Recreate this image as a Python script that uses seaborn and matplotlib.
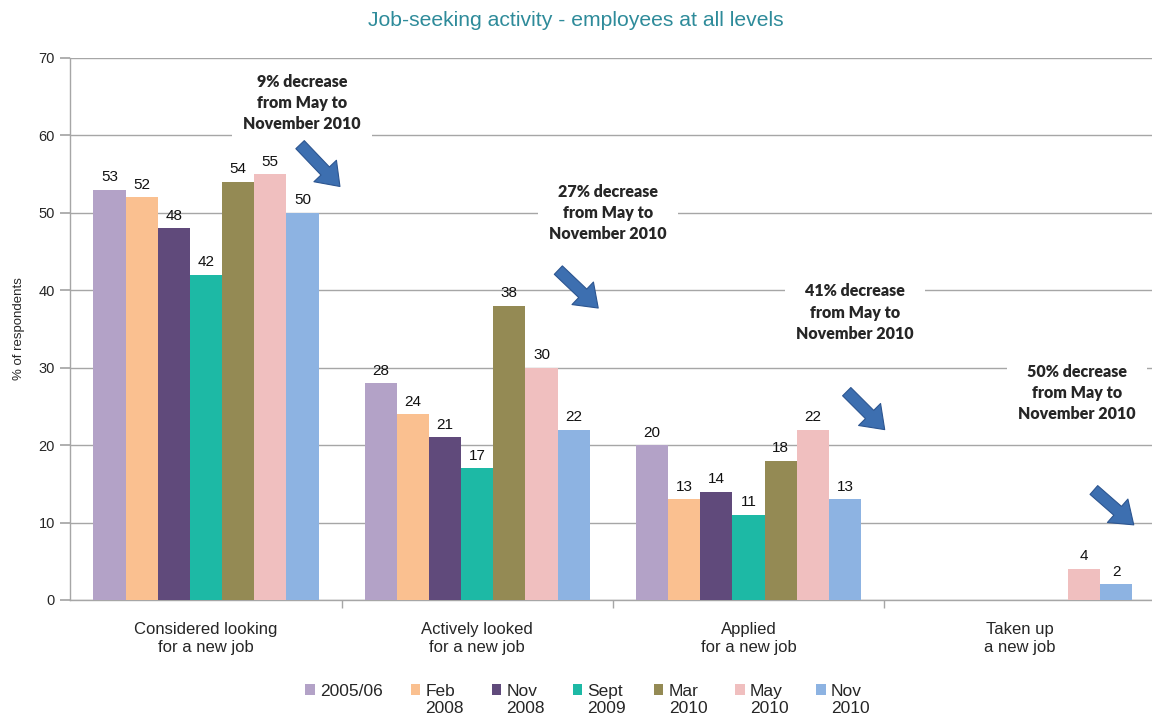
import numpy as np
import pandas as pd
import matplotlib
matplotlib.use("Agg")
import matplotlib.pyplot as plt
from matplotlib.patches import Rectangle
from matplotlib.legend_handler import HandlerPatch
import seaborn as sns

categories = ["Considered looking\nfor a new job", "Actively looked\nfor a new job",
              "Applied\nfor a new job", "Taken up\na new job"]
series = ["2005/06", "Feb\n2008", "Nov\n2008", "Sept\n2009", "Mar\n2010", "May\n2010", "Nov\n2010"]
v_2005 = [53, 28, 20, np.nan]
v_feb08 = [52, 24, 13, np.nan]
v_nov08 = [48, 21, 14, np.nan]
v_sep09 = [42, 17, 11, np.nan]
v_mar10 = [54, 38, 18, np.nan]
v_may10 = [55, 30, 22, 4]
v_nov10 = [50, 22, 13, 2]
colors = ["#B3A2C7", "#FAC090", "#604A7B", "#1DB9A5", "#948A54", "#F0BFBF", "#8DB3E2"]
notes = ["9% decrease\nfrom May to\nNovember 2010", "27% decrease\nfrom May to\nNovember 2010",
         "41% decrease\nfrom May to\nNovember 2010", "50% decrease\nfrom May to\nNovember 2010"]

vals = [v_2005, v_feb08, v_nov08, v_sep09, v_mar10, v_may10, v_nov10]
rows = []
for s, v in zip(series, vals):
    for c, x in zip(categories, v):
        rows.append({"cat": c, "series": s, "val": x})
df = pd.DataFrame(rows).dropna()

sns.set_theme(style="white")
plt.rcParams["font.family"] = ["Liberation Sans", "DejaVu Sans"]

fig = plt.figure(figsize=(11.52, 7.26), dpi=100)
ax = fig.add_axes([0.061, 0.1736, 0.942, 0.7466])

sns.barplot(data=df, x="cat", y="val", hue="series", order=categories, hue_order=series,
            palette=colors, width=0.83, errorbar=None, ax=ax, legend=True,
            edgecolor="none", saturation=1, zorder=3)

for cont in ax.containers:
    ax.bar_label(cont, fmt="%g", padding=4, fontsize=11, color="#111111")

ax.set_ylim(0, 70)
ax.set_xlim(-0.5, 3.5)
ax.set_yticks(range(0, 71, 10))
ax.yaxis.grid(True, color="#A6A6A6", linewidth=1, zorder=0)
ax.set_axisbelow(True)
for sp in ["top", "right"]:
    ax.spines[sp].set_visible(False)
for sp in ["left", "bottom"]:
    ax.spines[sp].set_color("#A6A6A6")
    ax.spines[sp].set_linewidth(1)
ax.tick_params(axis="y", left=True, length=7, color="#A6A6A6", labelsize=10.5, pad=4)
ax.tick_params(axis="x", bottom=False, labelsize=12, pad=10)
ax.set_xticks([0.5, 1.5, 2.5], minor=True)
ax.tick_params(axis="x", which="minor", bottom=True, length=6, color="#A6A6A6")
ax.set_xlabel("")
ax.set_ylabel("% of respondents", fontsize=9.5, labelpad=10)

fig.suptitle("Job-seeking activity - employees at all levels", color="#2E8B9A",
             fontsize=15.2, y=0.985)

note_pos = [(0.354, 64.2), (1.483, 50.0), (2.391, 37.1), (3.21, 26.7)]
for (x, y), t in zip(note_pos, notes):
    ax.text(x, y, t, ha="center", va="center", fontsize=11.5, fontweight="heavy",
            family=["Lato", "DejaVu Sans"], linespacing=1.4, zorder=4,
            bbox=dict(facecolor="white", edgecolor="none", pad=8))

arrows = [((0.347, 58.8), (0.494, 53.4)), ((1.299, 42.6), (1.446, 37.7)),
          ((2.362, 26.9), (2.502, 22.0)), ((3.273, 14.2), (3.42, 9.7))]
for (x0, y0), (x1, y1) in arrows:
    ax.annotate("", xy=(x1, y1), xytext=(x0, y0), zorder=5,
                arrowprops=dict(arrowstyle="simple,head_width=1.6,head_length=1.1,tail_width=0.6",
                                mutation_scale=14, facecolor="#3D6FB0", edgecolor="#2C5590",
                                lw=0.8, shrinkA=0, shrinkB=0))


def top_patch(legend, orig_handle, xdescent, ydescent, width, height, fontsize):
    return Rectangle((-xdescent, -ydescent + 0.6 * fontsize), width, height)


h, l = ax.get_legend_handles_labels()
ax.get_legend().remove()
l = [lab if "\n" in lab else lab + "\n " for lab in l]
fig.legend(h, l, loc="center", bbox_to_anchor=(0.51, 0.036), ncol=7, frameon=False,
           fontsize=12.5, handlelength=0.55, handleheight=0.55, handletextpad=0.3,
           columnspacing=1.6, labelspacing=0.2,
           handler_map={type(h[0]): HandlerPatch(patch_func=top_patch)})

fig.savefig("out.png", dpi=100)
